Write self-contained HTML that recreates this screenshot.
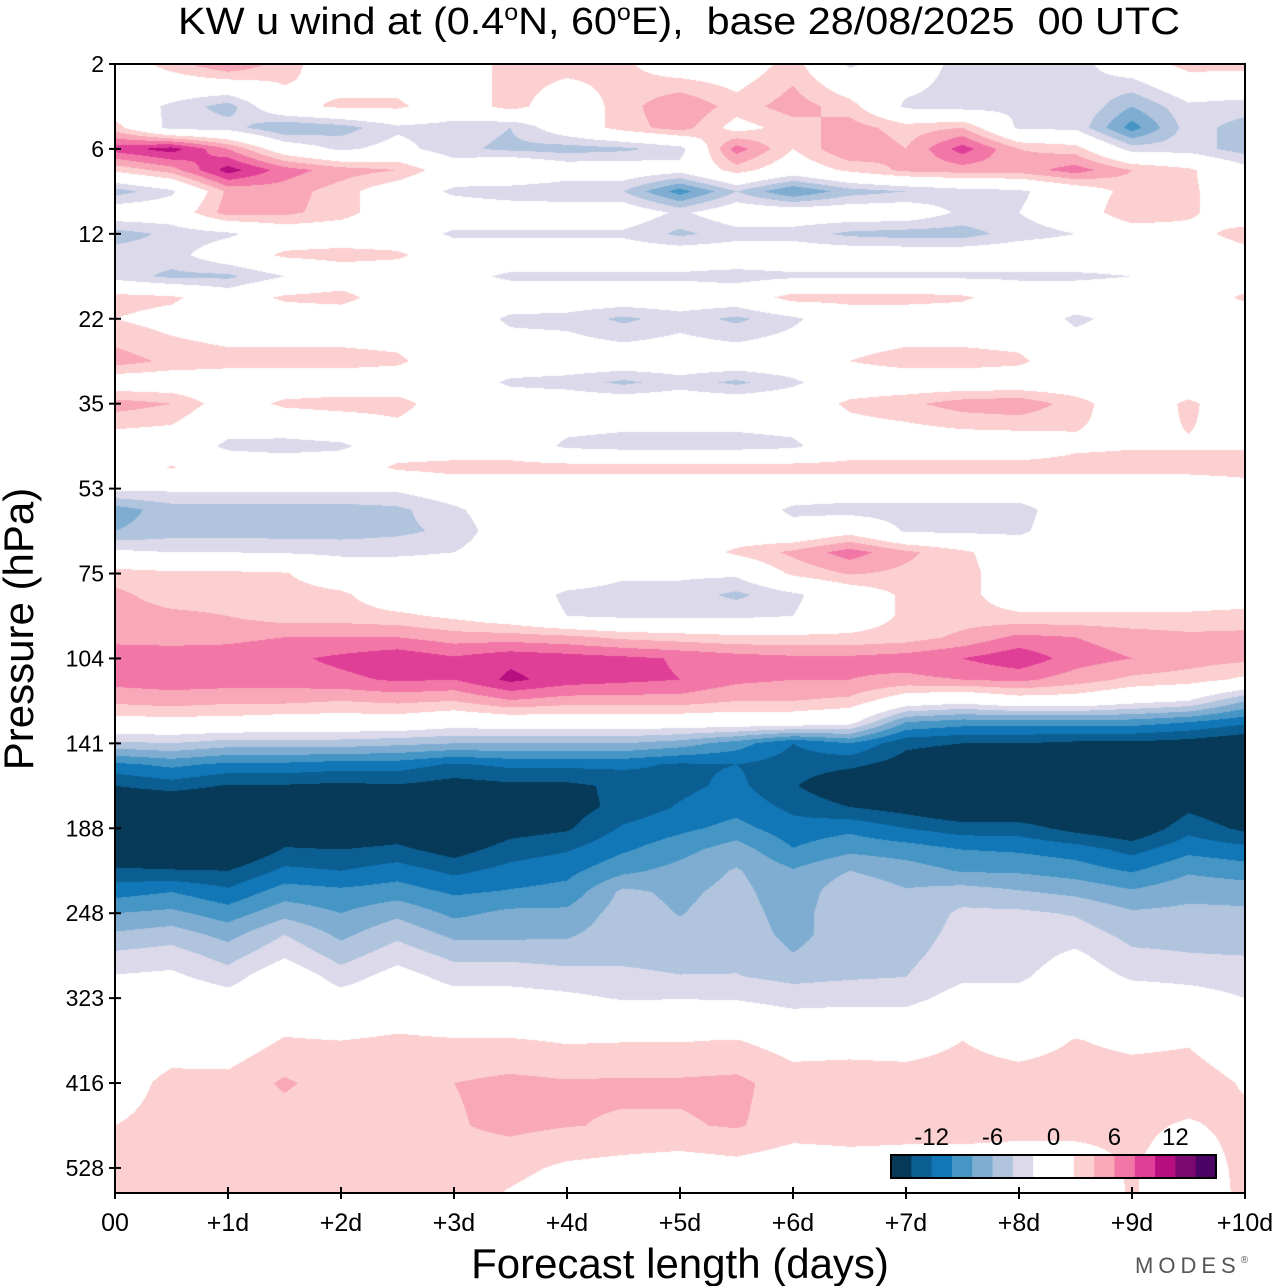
<!DOCTYPE html>
<html><head><meta charset="utf-8">
<style>
html,body{margin:0;padding:0;background:#fff;}
#wrap{position:relative;width:1280px;height:1286px;overflow:hidden;font-family:"Liberation Sans",sans-serif;}
#plot{position:absolute;left:0;top:0;}
#ov{position:absolute;left:0;top:0;}
</style></head>
<body>
<div id="wrap">
<canvas id="plot" width="1280" height="1286"></canvas>
<svg id="ov" width="1280" height="1286"></svg>
</div>
<script>
// ---- data ----
const days = [0,0.5,1,1.5,2,2.5,3,3.5,4,4.5,5,5.5,6,6.5,7,7.5,8,8.5,9,9.5,10];
const xTickLabels = ["00","+1d","+2d","+3d","+4d","+5d","+6d","+7d","+8d","+9d","+10d"];
const pressureTicks = ["2","6","12","22","35","53","75","104","141","188","248","323","416","528"];
const levelIdx = [0,0.5,0.75,1,1.25,1.5,1.75,2,2.25,2.5,2.75,3,3.5,3.75,4,4.5,4.75,5,5.25,5.5,5.75,6,6.25,6.5,6.75,7,7.25,7.5,7.75,8,8.25,8.5,8.75,9,9.25,9.5,9.75,10,10.25,10.5,10.75,11,11.5,12,12.5,13,13.3];
const uRows = [
[0,3,6,3,0,0,0,3,3,2.5,0,0,3,-2.5,0,-3,-2.5,-3,0,3,3],
[0,-2.5,-5,1,2.5,2.5,0,3,0,3,6,3,5,3,-2.5,-3,-2.5,-2,-6,-2.5,-3],
[3,-3,-3,-6,-5,-2.5,-3,-4,0,3,5,1,3,5,3,4,-2.5,-2.5,-9,-3,-5],
[9,11,6,0,-2.5,-1,-3.5,-4.5,-5,-4.5,-3,7,2,6,4,9,4,3,-3,-3,-5],
[2.5,5,11,7,5,4,0,2,0,0,-1,3,0,2.5,4.5,5,5,7,4,2.5,-1],
[-5,-2.5,4.5,5,3,0,-2.5,-3.5,-4,-4,-9,-4,-8,-5,-4,-3,-2.5,0,3,2.5,0],
[0,0,5,4.5,3,0,0,0,0,0,-2.5,0,0,0,0,-2.5,-2,0,4,2.5,0],
[-5,-3.5,-2.5,0,0,0,-2.5,-2.5,-2.5,-2.5,-4.5,-3,-3,-4.5,-5,-5,-3,-2,0,1,3],
[-3,-3,0,2.5,3,2.5,0,0,0,0,0,0,0,0,0,0,0,0,0,0,1],
[-3,-4.5,-4.5,-2,0,0,-1,-2.5,-2.5,-2.5,-2.5,-3,-2.5,-2.5,-2.5,-2.5,-2.5,-2.5,-2,0,0],
[3,2.5,0,2.5,3,0,0,0,0,0,0,0,3,3,3,2.5,0,0,0,0,2.5],
[2,1,0,0,0,0,0,-2.5,-2.8,-4.5,-3,-4.5,-2.5,0,0,0,0,-2.5,-1,0,0],
[5,3.5,3,3,3,2.5,0,0,0,0,0,0,0,2,3,3,2.5,0,0,0,0],
[0,0,0,0,0,0,0,-2.5,-3,-4.5,-3,-4.5,-2.5,0,0,0,0,0,0,0,0],
[5,4,0.5,2.5,3,3,0,0,0,0,0,0,0,2.5,3.5,5,5.5,3,0,2.5,0],
[0,0,-2.5,-3,-2.5,0,0,0,-2.5,-3,-3,-3,-2.5,0,0,0,0,1.5,1.8,1.8,1.8],
[0,2.2,0,0,0,2.5,3,3,3,3,3,3,3,3,3,3,3,3,3,3,3],
[-1.5,-1.5,-1.5,-1.5,-1.5,-1.5,0,0,0,0,0,0,0,0,0,0,0,0,0,0,1],
[-7,-5,-5,-5,-5,-4.5,-2.5,0,0,0,0,0,-2.5,-3,-3,-3,-3,0,0,0,0],
[-6,-5,-5,-5,-5,-4.5,-3.5,0,0,0,0,0,-1,1,-2.3,-2.5,-2.5,0,0,0,0],
[-1.5,-2,-2,-2.2,-2.5,-2.5,-2,0,0,0,0,2.5,4.5,7,4.5,2.5,0,0,0,0,0],
[3,2.5,2.5,2.2,0,0,0,0,0,-1.5,-1.5,-1.5,2.5,4.2,3.5,3,0,0,0,0,0],
[4.5,3,3,3,2.5,0,0,0,-2.5,-3,-3,-4.5,-2.5,0,2.5,3,0,0,0,0,0],
[5,4.5,4,3,3,2.5,1.5,0,-2,-2.5,-2.5,-2.5,-2,0,2.5,3,2.5,2.5,2.5,2.5,3],
[5.5,5,5.5,6,6,6,5,5,4.5,3.5,3,2.5,2.5,2.5,3,4.5,6.5,6,5,4.5,4.5],
[7,7.5,7,7.5,8.5,9.5,8.3,9.5,9,8.5,7.8,7,6.5,6.5,7,8,9.5,7,6,5,4.5],
[6.8,7,7,7,7.5,8.3,8,10.5,9,8.5,8,6.5,6,6,5.5,6,6.5,5,3.5,3,1.5],
[4.5,5,4.5,4.5,4,4.5,4,5.8,5,5,5,4,4,3.5,0,-1,0.5,0.5,-1,-2,-6],
[1,1,1,0.5,0.5,0.5,-0.5,0,0,0,0,0,0,-1,-8,-9,-9,-9,-9,-10,-11.5],
[-4.5,-4,-5,-5,-5,-5.5,-6,-6,-6,-6,-7,-9,-12,-10,-13.5,-14,-14,-14.5,-14.5,-15,-16],
[-10.5,-9.5,-10.5,-10.5,-11,-11,-12.3,-11.5,-11.5,-11.5,-12.3,-12,-13,-13.5,-15,-16,-16.5,-17,-17.5,-17.5,-18],
[-14,-13,-14.2,-14.2,-14.5,-14.2,-15,-14.5,-14.5,-13.5,-12.5,-11.5,-13.8,-16,-17,-18,-18,-18,-18.5,-17,-18],
[-17,-17,-17,-16,-16.5,-16.5,-17,-16,-15,-13.3,-11.8,-10.7,-12.5,-14,-15,-16.5,-16.5,-17,-17.5,-14.5,-16],
[-18,-18,-18,-15.5,-16,-15.5,-17,-15,-14.3,-11.7,-10.5,-9.3,-11.2,-10.5,-12,-13,-13,-14.8,-16,-12.7,-14.5],
[-17,-17,-17,-13.8,-14,-13.5,-15,-13,-12.2,-10.3,-8.7,-7,-9.9,-8.5,-9,-10,-10.3,-11,-12.7,-10.6,-11.3],
[-13.5,-13.8,-14,-11.5,-12,-11,-12.5,-11.3,-10.6,-8.5,-7.3,-5.8,-7.8,-6,-7,-8.2,-8.3,-9,-10.2,-8.3,-9],
[-10.8,-10,-11.5,-9,-9.5,-9,-10.3,-9.8,-9.3,-5.5,-6.5,-5.3,-7.4,-4.5,-5.8,-5,-5.8,-6.5,-7.7,-6.6,-6.8],
[-8,-7.5,-9,-6.7,-8,-6.5,-8.5,-7.5,-7.5,-5,-6.1,-5,-7,-4.3,-5.5,-3.6,-3.6,-4.2,-5.7,-5.5,-5.6],
[-5.7,-5,-6.7,-4,-6.5,-4.5,-6.5,-6.5,-6.3,-4.8,-5.5,-4.8,-6.6,-5,-5,-3.3,-3.2,-3,-4.6,-4.6,-4.8],
[-3.5,-3,-4.8,-2.3,-4.8,-2.8,-4.5,-4.5,-4.8,-4.5,-4.8,-4.5,-5.9,-4.8,-4.5,-3,-3,-1.5,-3.6,-3.9,-4],
[-1.8,-1.5,-3,0,-3,-1,-2.8,-2.8,-3.2,-3.5,-3.9,-3.9,-4.5,-4.2,-4,-2.4,-2.4,-0.5,-2.3,-2.6,-3],
[-0.5,0,-1,0,-1,0,-1,-1,-1.5,-2.2,-2.1,-2.2,-3,-2.8,-2.8,-1,-1,0,-0.5,-1,-2],
[0,0.5,0.5,2.2,2,2.4,2.2,2.2,1.8,1.9,1.9,2.1,1,1.2,1,2,1,2.1,1.5,1.8,0.5],
[0.5,2.8,2.7,4.3,3,3.2,4,4.5,4.2,4.3,4.3,4.5,3,3,3,3,3,3,3,3,1.8],
[2,3,3,3,3,3,3.8,4.5,4.1,3.8,3.8,4.2,3,3,2.8,2.8,2.8,2.6,2.4,1.8,2.5],
[3,3,3,3,3,3,3,2.6,1.6,1.2,0.8,1.2,0.6,1,1,1,0.6,1,2.2,0.8,2.5],
[3,3,3,3,3,3,3,1.8,0.8,0.5,0.3,0.5,0.3,0.5,0.5,0.5,0.3,0.5,2.2,0.5,2.5]
];
const colorLevels = [-14,-12,-10,-8,-6,-4,-2,2,4,6,8,10,12,14];
const colorbarTicks = ["-12","-6","0","6","12"];
const colorbarTickVals = [-12,-6,0,6,12];
const palette = ["#063a58","#0b5e92","#1277b6","#4596c5","#7fadd2","#b0c4de","#dcdaea","#ffffff","#fcd0d0","#f8a8b8","#f277a7","#e03f97","#b80f80","#7a0a70","#4b0365"];

// ---- axes ----
const X0=115, X1=1245, Y0=64, Y1=1193, DY=84.92;
function xScale(d){ return X0 + d*(X1-X0)/10; }
function yScale(li){ return Y0 + li*DY; }
function hex(c){ return [parseInt(c.slice(1,3),16),parseInt(c.slice(3,5),16),parseInt(c.slice(5,7),16)]; }

// ---- contour field ----
const cv=document.getElementById('plot'); const ctx=cv.getContext('2d');
const W=X1-X0, H=Y1-Y0;
const img=ctx.createImageData(W,H);
const rgbPal=palette.map(hex);
const rowY=levelIdx.map(yScale);
const colX=days.map(xScale);
for(let py=0;py<H;py++){
  const y=Y0+py+0.5;
  let r=0; while(r<rowY.length-2 && y>rowY[r+1]) r++;
  let ty=(y-rowY[r])/(rowY[r+1]-rowY[r]); ty=Math.max(0,Math.min(1,ty));
  const ra=uRows[r], rb=uRows[r+1];
  for(let px=0;px<W;px++){
    const x=X0+px+0.5;
    let c=Math.floor((x-colX[0])/(colX[1]-colX[0])); if(c<0)c=0; if(c>days.length-2)c=days.length-2;
    let tx=(x-colX[c])/(colX[c+1]-colX[c]); tx=Math.max(0,Math.min(1,tx));
    const v=(ra[c]*(1-tx)+ra[c+1]*tx)*(1-ty)+(rb[c]*(1-tx)+rb[c+1]*tx)*ty;
    let i=0; while(i<colorLevels.length && v>=colorLevels[i]) i++;
    const col=rgbPal[i]; const k=(py*W+px)*4;
    img.data[k]=col[0];img.data[k+1]=col[1];img.data[k+2]=col[2];img.data[k+3]=255;
  }
}
ctx.putImageData(img,X0,Y0);

// ---- overlay ----
const NS="http://www.w3.org/2000/svg";
const svg=document.getElementById('ov');
function mk(tag,attrs,parent){ const e=document.createElementNS(NS,tag); for(const k in attrs) e.setAttribute(k,attrs[k]); (parent||svg).appendChild(e); return e; }

const frame=mk('rect',{x:X0,y:Y0,width:X1-X0,height:Y1-Y0,fill:'none',stroke:'#000','stroke-width':2});



pressureTicks.forEach((lab,i)=>{
  const y=yScale(i);
  const t=mk('line',{x1:X0-6,x2:X0+6,y1:y,y2:y,stroke:'#000','stroke-width':2});
  
  
  const tx=mk('text',{x:104,y:y+8,'text-anchor':'end','font-size':23,'font-family':'Liberation Sans, sans-serif',fill:'#000'});
  tx.textContent=lab;
  
  
});
xTickLabels.forEach((lab,i)=>{
  const x=xScale(i);
  const t=mk('line',{x1:x,x2:x,y1:Y1-6,y2:Y1+6,stroke:'#000','stroke-width':2});
  
  
  const tx=mk('text',{x:x,y:1231,'text-anchor':'middle','font-size':25,'font-family':'Liberation Sans, sans-serif',fill:'#000'});
  tx.textContent=lab;
  
  
});

const cbX0=891, cbX1=1216, cbY=1155, cbH=23, cbVmin=-16, cbVmax=16;
function cbScale(v){ return cbX0+(v-cbVmin)*(cbX1-cbX0)/(cbVmax-cbVmin); }
const cbEdges=[cbVmin].concat(colorLevels,[cbVmax]);
for(let i=0;i<palette.length;i++){
  const a=cbScale(cbEdges[i]), b=cbScale(cbEdges[i+1]);
  const r=mk('rect',{x:a,y:cbY,width:b-a+0.5,height:cbH,fill:palette[i]});
  
  
}
const cbf=mk('rect',{x:cbX0,y:cbY,width:cbX1-cbX0,height:cbH,fill:'none',stroke:'#000','stroke-width':2});


colorbarTicks.forEach((lab,i)=>{
  const t=mk('text',{x:cbScale(colorbarTickVals[i]),y:1145,'text-anchor':'middle','font-size':24,'font-family':'Liberation Sans, sans-serif',fill:'#000'});
  t.textContent=lab;
  
  
});
</script>
<svg width="1280" height="1286" style="position:absolute;left:0;top:0;pointer-events:none">
  <text x="178" y="34" font-size="38" font-family="Liberation Sans, sans-serif" xml:space="preserve" style="white-space:pre" textLength="1002" lengthAdjust="spacingAndGlyphs">KW u wind at (0.4<tspan font-size="23" dy="-14">o</tspan><tspan dy="14">N, 60</tspan><tspan font-size="23" dy="-14">o</tspan><tspan dy="14">E),  base 28/08/2025  00 UTC</tspan></text>
  <text transform="translate(33,629) rotate(-90)" text-anchor="middle" font-size="42" font-family="Liberation Sans, sans-serif">Pressure (hPa)</text>
  <text x="680" y="1278" text-anchor="middle" font-size="42" font-family="Liberation Sans, sans-serif">Forecast length (days)</text>
  <text x="1135" y="1273" font-size="22" letter-spacing="5" fill="#555" font-family="Liberation Sans, sans-serif">MODES<tspan font-size="10" dy="-10">®</tspan></text>
</svg>
</body></html>
